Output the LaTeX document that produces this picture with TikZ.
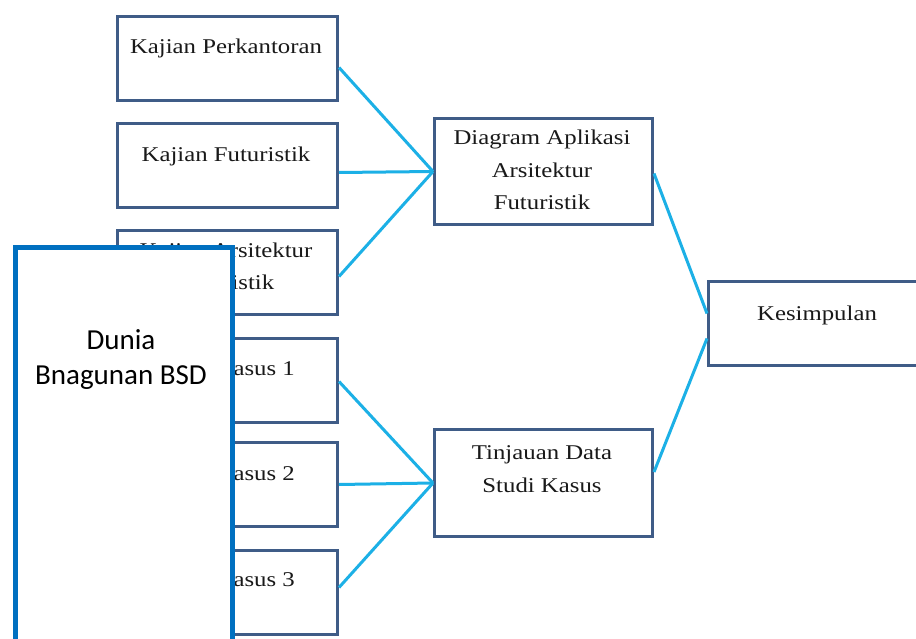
\documentclass[tikz,border=0pt]{standalone}
\usepackage{fontspec}
\setmainfont{Liberation Serif}
\newfontfamily\boxfont[FakeStretch=1.18]{Liberation Serif}
\newfontfamily\calfont{Carlito}
\definecolor{boxline}{RGB}{63,92,135}
\definecolor{cyanline}{RGB}{28,176,230}
\definecolor{ovblue}{RGB}{0,112,192}
\begin{document}
\begin{tikzpicture}[x=1pt,y=-1pt,
  box/.style={draw=boxline, line width=3pt, fill=white, inner sep=0pt, anchor=north west, minimum width=220pt, minimum height=84pt},
  txt/.style={font=\boxfont\fontsize{21}{32.5}\selectfont, inner sep=0pt, anchor=base, align=center, text=black!90},
  link/.style={draw=cyanline, line width=3pt},
  overlay box/.style={draw=ovblue, line width=5pt, fill=white, inner sep=0pt, anchor=north west, minimum width=217pt, minimum height=420pt}]
\clip (0,0) rectangle (916,639);
\fill[white] (0,0) rectangle (916,639);
% left boxes
\node[box] (b1) at (116,15) {};
\node[box] (b2) at (116,122) {};
\node[box] (b3) at (116,229) {};
\node[box] (b4) at (116,337) {};
\node[box] (b5) at (116,441) {};
\node[box] (b6) at (116,549) {};
% middle and right boxes
\node[box, minimum width=218pt, minimum height=106pt] (d) at (433,117) {};
\node[box, minimum width=218pt, minimum height=107pt] (t) at (433,428) {};
\node[box, minimum width=222pt, minimum height=84pt] (k) at (707,280) {};
% texts (base anchor = baseline of the last line)
\node[txt] (tb1) at (226,54) {Kajian Perkantoran};
\node[txt] (tb2) at (226,162) {Kajian Futuristik};
\node[txt] (tb3) at (226,290) {Kajian Arsitektur\\Futuristik};
\node[txt] (tb4) at (226,375) {Studi Kasus 1};
\node[txt] (tb5) at (226,480) {Studi Kasus 2};
\node[txt] (tb6) at (226,586) {Studi Kasus 3};
\node[txt] (td) at (542,210) {Diagram Aplikasi\\Arsitektur\\Futuristik};
\node[txt] (tt) at (542,492) {Tinjauan Data\\Studi Kasus};
\node[txt] (tk) at (817,320) {Kesimpulan};
% connectors
\draw[link] ([yshift=-9pt]b1.east) -- (d.west);
\draw[link] ([yshift=-7pt]b2.east) -- (d.west);
\draw[link] ([yshift=-4pt]b3.east) -- (d.west);
\draw[link] ([yshift=-1pt]b4.east) -- (t.west);
\draw[link] (b5.east) -- (t.west);
\draw[link] ([yshift=5pt]b6.east) -- (t.west);
\draw[link] ([yshift=-2pt]d.east) -- ([yshift=10pt]k.west);
\draw[link] ([yshift=11pt]t.east) -- ([yshift=-15pt]k.west);
% overlay box
\node[overlay box] (ov) at (12.5,245.5) {};
\node[font=\calfont\fontsize{29}{35}\selectfont, inner sep=0pt, anchor=base, align=center] (ovt) at (121,384) {Dunia\\Bnagunan BSD};
\end{tikzpicture}
\end{document}
